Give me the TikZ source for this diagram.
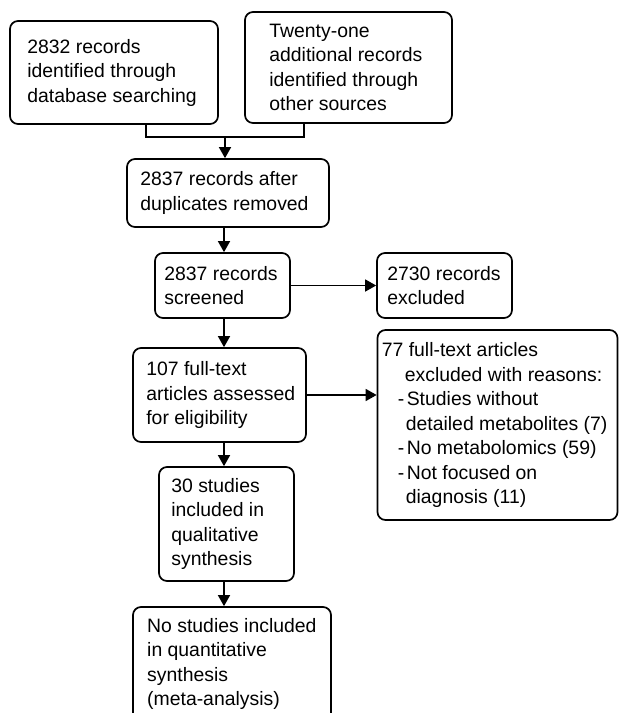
\documentclass[tikz,border=0pt]{standalone}
\usepackage{fontspec}
\setmainfont{Liberation Sans}
\usetikzlibrary{arrows.meta}
\begin{document}
\begin{tikzpicture}[x=1pt,y=-1pt,
  frame/.style={draw, line width=1.7pt, rounded corners=8pt, inner sep=0pt},
  txt/.style={inner sep=0pt, align=left, font=\fontsize{19.4}{24.5}\selectfont},
  arr/.style={line width=1.5pt, -{Triangle[length=11pt,width=12pt]}},
  ln/.style={line width=1.5pt}]
\useasboundingbox (0,0) rectangle (619,713);
\clip (0,0) rectangle (619,713);

\node[frame, minimum width=208pt, minimum height=103pt] (b1) at (114,72.5) {};
\node[txt, anchor=west] (t1) at ([xshift=18pt]b1.west) {2832 records\\identified through\\database searching};

\node[frame, minimum width=207pt, minimum height=111pt] (b2) at (348.5,67.5) {};
\node[txt, anchor=west] (t2) at ([xshift=25pt]b2.west) {Twenty-one\\additional records\\identified through\\other sources};

\node[frame, minimum width=202pt, minimum height=68pt] (b3) at (228,193) {};
\node[txt, anchor=west] (t3) at ([xshift=14pt]b3.west) {2837 records after\\duplicates removed};

\node[frame, minimum width=135pt, minimum height=65pt] (b4) at (222.5,285.5) {};
\node[txt, anchor=west] (t4) at ([xshift=10pt]b4.west) {2837 records\\screened};

\node[frame, minimum width=135pt, minimum height=65pt] (b5) at (444.5,285.5) {};
\node[txt, anchor=west] (t5) at ([xshift=11pt]b5.west) {2730 records\\excluded};

\node[frame, minimum width=173pt, minimum height=94pt] (b6) at (219.5,395) {};
\node[txt, anchor=west] (t6) at ([xshift=14pt]b6.west) {107 full-text\\articles assessed\\for eligibility};

\node[frame, minimum width=240pt, minimum height=190pt] (b7) at (497.5,425) {};
\node[txt, anchor=west] (t7) at ([xshift=5pt]b7.west) {77 full-text articles\\
\hspace*{23pt}excluded with reasons:\\
\hspace*{16pt}-\hspace{2.5pt}Studies without\\
\hspace*{24pt}detailed metabolites (7)\\
\hspace*{16pt}-\hspace{2.5pt}No metabolomics (59)\\
\hspace*{16pt}-\hspace{2.5pt}Not focused on\\
\hspace*{24pt}diagnosis (11)};

\node[frame, minimum width=135pt, minimum height=114pt] (b8) at (226.5,524) {};
\node[txt, anchor=west] (t8) at ([xshift=13pt]b8.west) {30 studies\\included in\\qualitative\\synthesis};

\node[frame, minimum width=198pt, minimum height=153pt] (b9) at (232,683.5) {};
\node[txt, anchor=north west] (t9) at (147,618) {No studies included\\in quantitative\\synthesis\\(meta-analysis)};

\coordinate (c1) at (146,137);
\coordinate (c2) at (304,137);
\coordinate (j) at (225,137);
\coordinate (spine) at (224,0);
\draw[ln] (c1 |- b1.south) -- (c1) -- (c2) -- (c2 |- b2.south);
\draw[arr] (j) -- (j |- b3.north);
\draw[arr] (spine |- b3.south) -- (spine |- b4.north);
\draw[arr] (b4.east) -- (b5.west);
\draw[arr] (spine |- b4.south) -- (spine |- b6.north);
\draw[arr] (b6.east) -- (b6.east -| b7.west);
\draw[arr] (spine |- b6.south) -- (spine |- b8.north);
\draw[arr] (spine |- b8.south) -- (spine |- b9.north);
\end{tikzpicture}
\end{document}
